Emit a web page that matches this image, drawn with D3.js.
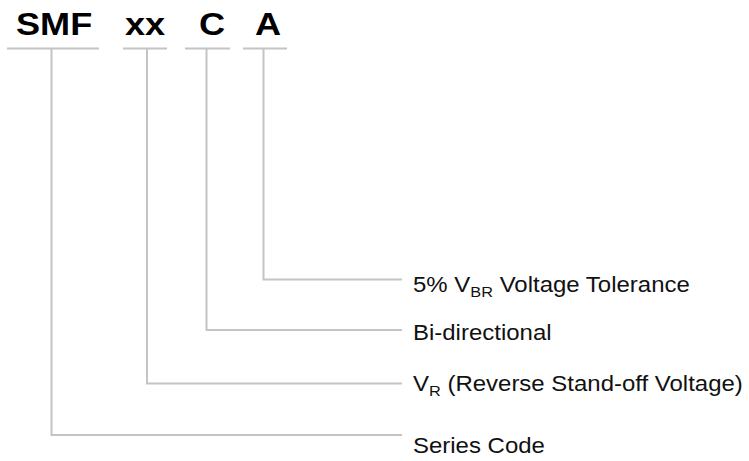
<!DOCTYPE html>
<html><head><meta charset="utf-8">
<script src="https://cdn.jsdelivr.net/npm/d3@7"></script>
<style>html,body{margin:0;padding:0;background:#fff}svg{display:block}</style>
</head><body>
<svg id="c" width="749" height="461"></svg>
<script>
// Data
const codeParts = ["SMF", "xx", "C", "A"];
const labels = [
  [{t:"Series Code"}],
  [{t:"V"},{t:"R",sub:true},{t:" (Reverse Stand-off Voltage)"}],
  [{t:"Bi-directional"}],
  [{t:"5% V"},{t:"BR",sub:true},{t:" Voltage Tolerance"}]
];

// Layout
const textX = [17, 126, 200, 256];
const barX = [[7,99],[123,167],[185,230],[243,287]];
const stemX = [51.5, 147, 206.5, 263.5];
const lineY = [435, 383.5, 330, 279.5];
const baseY = [453, 391, 340, 291.5];
const lineEnd = 402;
const labelX = 413;
const gray = "#c4c4c4";

const svg = d3.select("#c");
const g = svg.append("g");

// bars
g.selectAll("line.bar").data(barX).join("line")
  .attr("x1", d=>d[0]).attr("x2", d=>d[1]).attr("y1", 48.5).attr("y2", 48.5)
  .attr("stroke", gray).attr("stroke-width", 2);

// elbow connectors
g.selectAll("path.conn").data(codeParts).join("path")
  .attr("d", (d,i)=>`M${stemX[i]},48.5 V${lineY[i]} H${lineEnd}`)
  .attr("fill","none").attr("stroke", gray).attr("stroke-width", 2);

// title parts
codeParts.forEach((p,i)=>{
  g.append("text").attr("transform", `translate(${textX[i]-1},35) scale(1.13,1)`)
    .attr("font-family","Liberation Sans, Arial, sans-serif").attr("font-weight","bold")
    .attr("font-size", 32).attr("fill","#000").text(p);
});

// labels
labels.forEach((parts,i)=>{
  const t = g.append("text").attr("transform", `translate(${labelX},${baseY[i]}) scale(1.09,1)`)
    .attr("font-family","Liberation Sans, Arial, sans-serif").attr("font-size", 22).attr("fill","#111");
  parts.forEach(p=>{
    const s = t.append("tspan").text(p.t);
    if (p.sub) s.attr("font-size", 15).attr("dy", 5);
    else if (t.selectAll("tspan").size()>1) s.attr("dy", -5);
  });
});
</script>
</body></html>
